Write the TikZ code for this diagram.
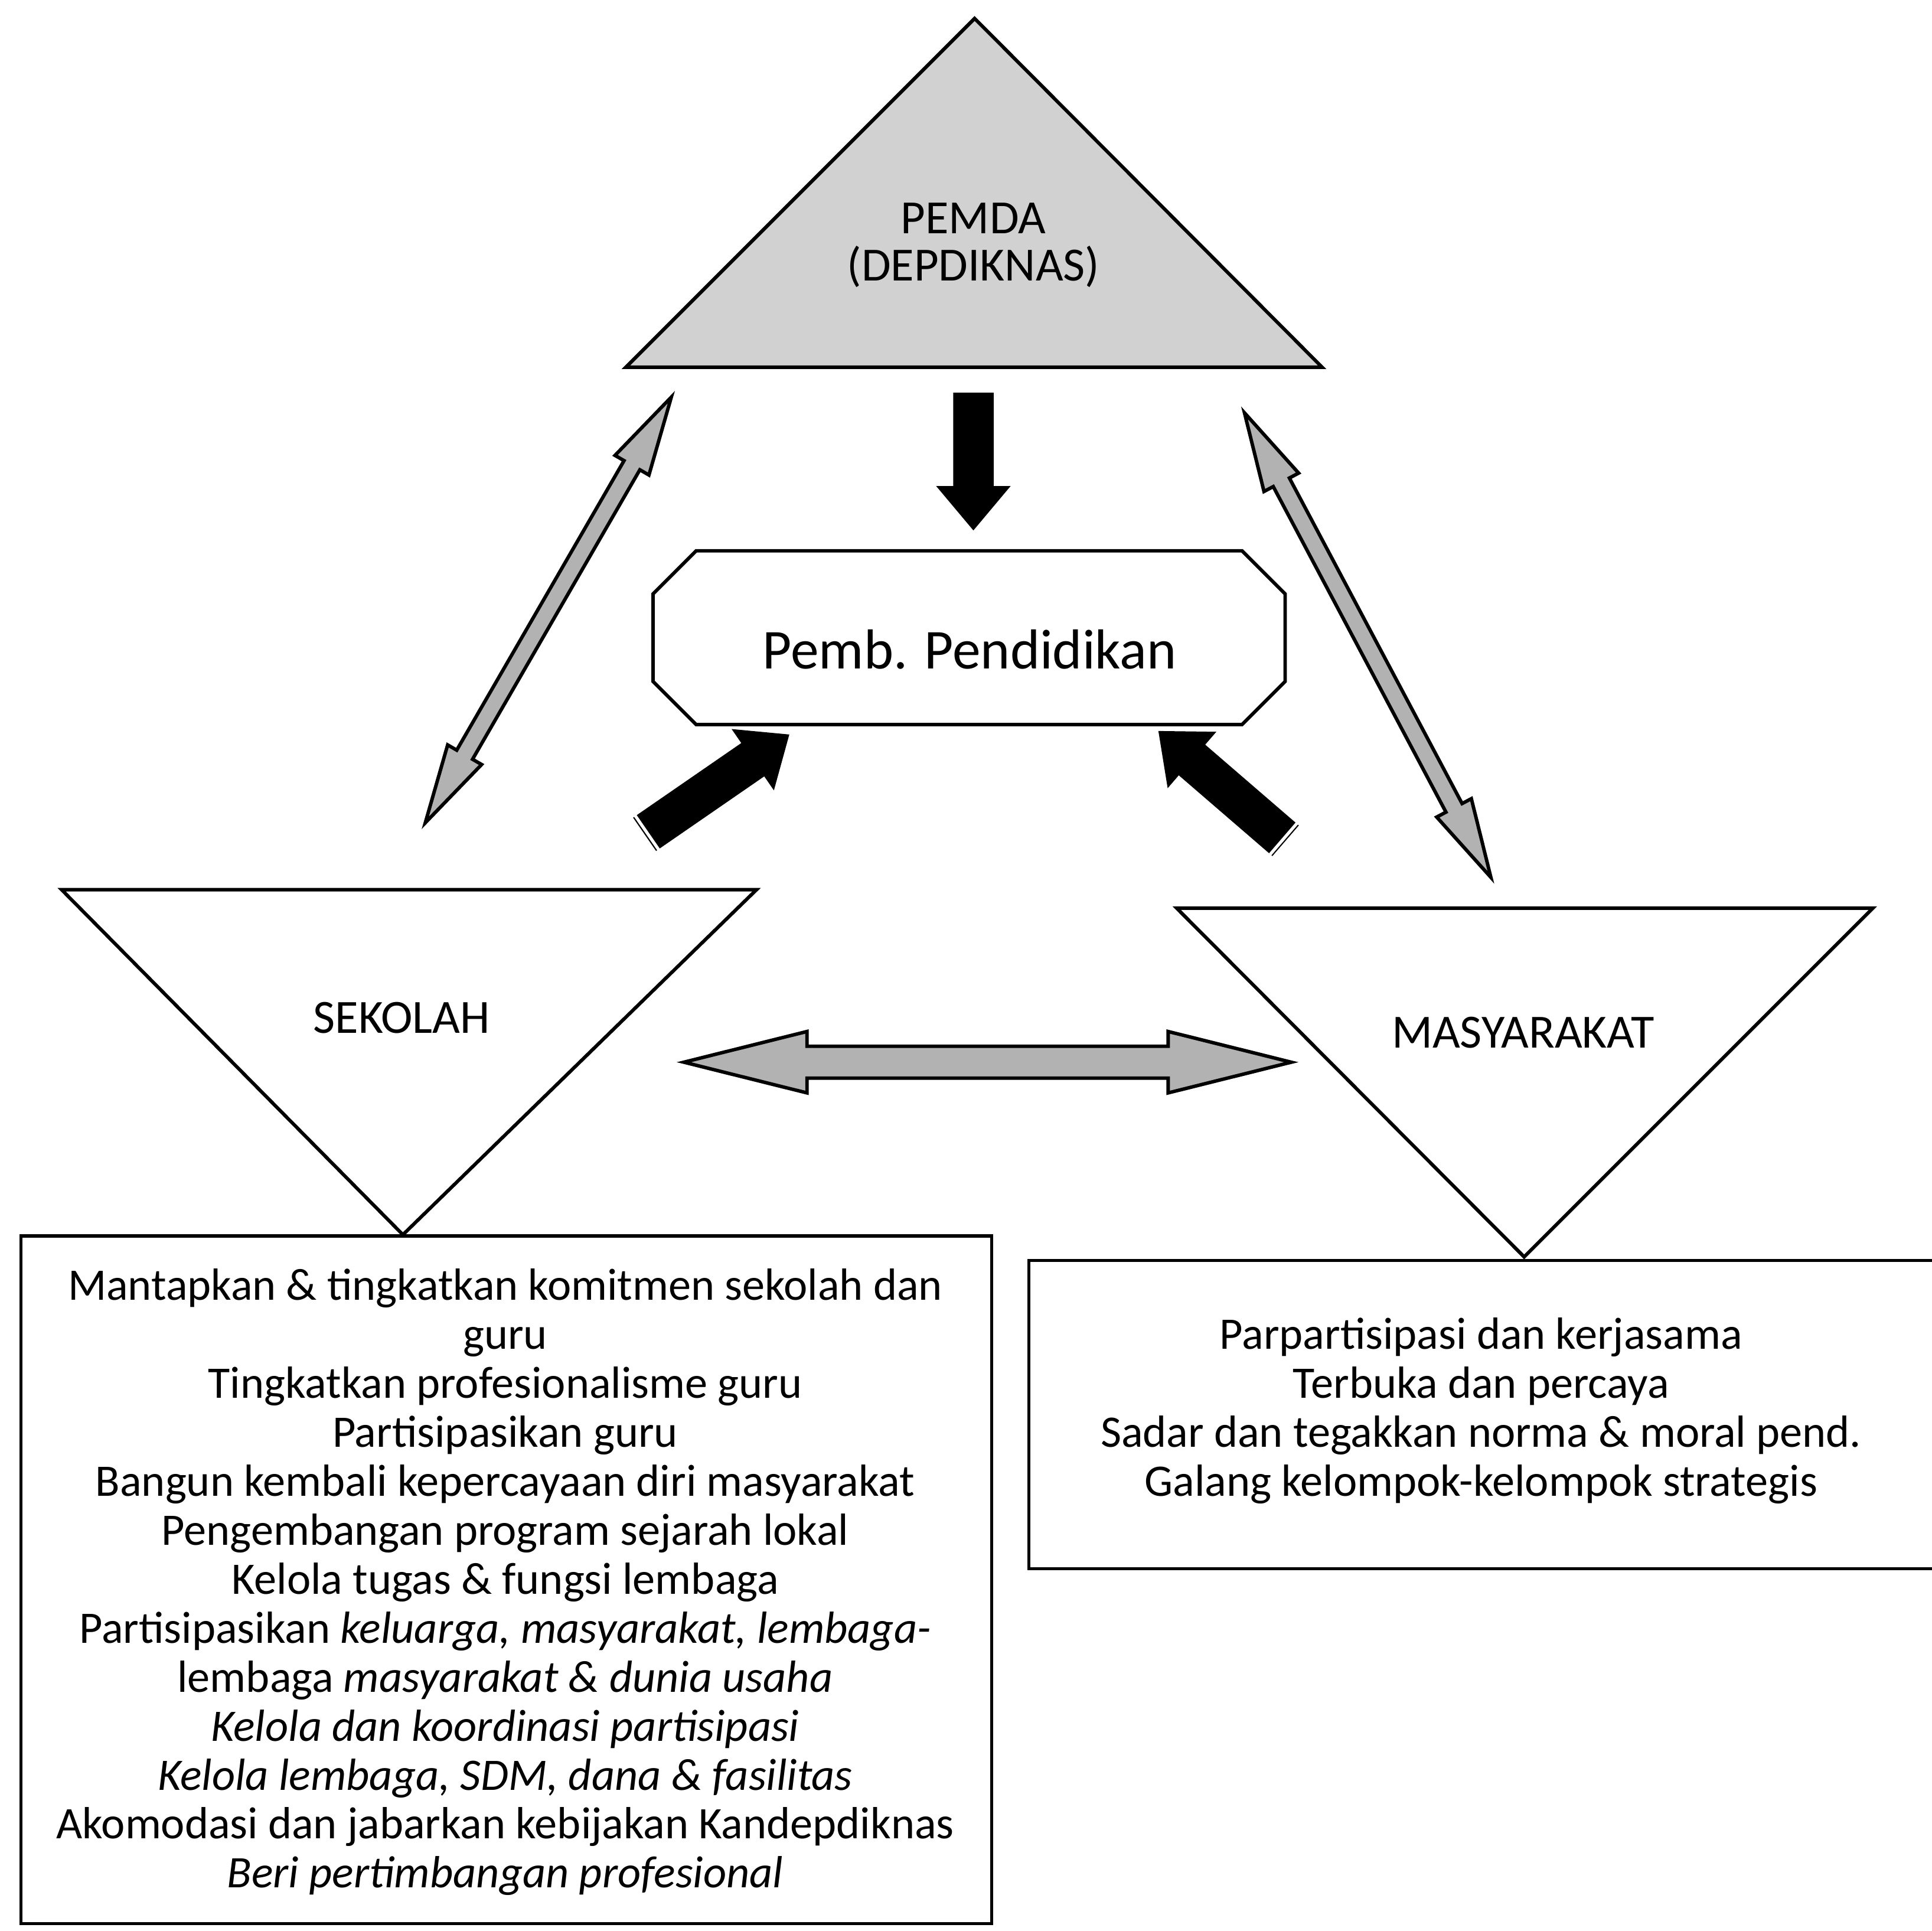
\documentclass[tikz,border=0pt]{standalone}
\usepackage{fontspec}
\setmainfont{Carlito}
\usetikzlibrary{calc,shapes.arrows}

\newcommand\fatarrow[4]{%
  \path let \p1=($(#3)-(#2)$) in
    node[#1, rotate={atan2(\y1,\x1)}, minimum height={veclen(\x1,\y1)}] (#4) at ($(#2)!0.5!(#3)$) {};}
\newcommand\stripes[2]{%
  \coordinate (#1sa) at ($(#1)!0.05cm!(#2)$);
  \coordinate (#1sb) at ($(#1)!0.11cm!(#2)$);
  \draw[white, line width=0.7pt] ($(#1sa)!0.22cm!90:(#2)$) -- ($(#1sa)!0.22cm!-90:(#2)$);
  \draw[white, line width=0.7pt] ($(#1sb)!0.22cm!90:(#2)$) -- ($(#1sb)!0.22cm!-90:(#2)$);}

\begin{document}
\begin{tikzpicture}[x=0.01cm, y=-0.01cm,
    tri/.style={draw, line width=0.8pt, line join=miter},
    oct/.style={draw, line width=0.8pt},
    box/.style={draw, line width=0.7pt},
    blk/.style={single arrow, draw=black, fill=black, inner xsep=0pt, inner ysep=0.15cm,
      single arrow head extend=0.13cm, single arrow tip angle=80, minimum width=0pt},
    dbl/.style={double arrow, draw=black, fill=black!30, line width=0.8pt, inner xsep=0pt,
      double arrow tip angle=28, minimum width=0pt},
    thin/.style={dbl, inner ysep=0.06cm, double arrow head extend=0.085cm},
    wide/.style={dbl, inner ysep=0.115cm, double arrow head extend=0.12cm},
    lbl/.style={font=\fontsize{11}{10.8}\selectfont, align=center, inner sep=0pt},
    txt/.style={font=\fontsize{10.4}{11.3}\selectfont, align=center, inner sep=0pt}]
\useasboundingbox (0,0) rectangle (1568,1567);

% PEMDA
\coordinate (pTop) at (791,15);
\coordinate (pLeft) at (508,298);
\coordinate (pRight) at (1073,298);
\draw[tri, fill=black!18] (pTop) -- (pLeft) -- (pRight) -- cycle;
\node[lbl] (pemda) at (790,199) {PEMDA\\(DEPDIKNAS)};

% Pemb. Pendidikan
\draw[oct] (565,447) -- (1008,447) -- (1043,482) -- (1043,553) -- (1008,588) -- (565,588) -- (530,553) -- (530,482) -- cycle;
\node[font=\fontsize{13}{15}\selectfont, inner sep=0pt] (pemb) at (787,527) {Pemb. Pendidikan};

% SEKOLAH
\coordinate (sLeft) at (50,722);
\coordinate (sRight) at (614,722);
\coordinate (sBot) at (327,1002);
\draw[tri] (sLeft) -- (sRight) -- (sBot) -- cycle;
\node[lbl] (sekolah) at (326,826) {SEKOLAH};

% MASYARAKAT
\coordinate (mLeft) at (955,737);
\coordinate (mRight) at (1520,737);
\coordinate (mBot) at (1237,1020);
\draw[tri] (mLeft) -- (mRight) -- (mBot) -- cycle;
\node[lbl] (masyarakat) at (1236,838) {MASYARAKAT};

% kotak
\draw[box] (17,1003) rectangle (805,1561);
\node[txt] (tugasSekolah) at (410,1284) {Mantapkan \& tingkatkan komitmen sekolah dan\\
  guru\\
  Tingkatkan profesionalisme guru\\
  Partisipasikan guru\\
  Bangun kembali kepercayaan diri masyarakat\\
  Pengembangan program sejarah lokal\\
  Kelola tugas \& fungsi lembaga\\
  Partisipasikan \textit{keluarga, masyarakat, lembaga-}\\
  lembaga \textit{masyarakat \& dunia usaha}\\
  \textit{Kelola dan koordinasi partisipasi}\\
  \textit{Kelola lembaga, SDM, dana \& fasilitas}\\
  Akomodasi dan jabarkan kebijakan Kandepdiknas\\
  \textit{Beri pertimbangan profesional}};
\draw[box] (1568,1023) -- (835,1023) -- (835,1273) -- (1568,1273);
\node[txt] (tugasMasy) at (1202,1145) {Parpartisipasi dan kerjasama\\
  Terbuka dan percaya\\
  Sadar dan tegakkan norma \& moral pend.\\
  Galang kelompok-kelompok strategis};

% panah
\coordinate (a1) at (790,310);
\coordinate (a2) at (790,420);
\fatarrow{blk}{a1}{a2}{turun}
\coordinate (b1) at (516,682);
\coordinate (b2) at (632,602);
\fatarrow{blk}{b1}{b2}{kiri}
\stripes{b1}{b2}
\coordinate (c1) at (1050,688);
\coordinate (c2) at (948,600);
\fatarrow{blk}{c1}{c2}{kanan}
\stripes{c1}{c2}
\coordinate (d1) at (345,668);
\coordinate (d2) at (545,322);
\fatarrow{thin}{d1}{d2}{pemdaSekolah}
\coordinate (e1) at (1010,335);
\coordinate (e2) at (1210,712);
\fatarrow{thin}{e1}{e2}{pemdaMasy}
\coordinate (f1) at (555,862);
\coordinate (f2) at (1048,862);
\fatarrow{wide}{f1}{f2}{sekolahMasy}

\end{tikzpicture}
\end{document}
